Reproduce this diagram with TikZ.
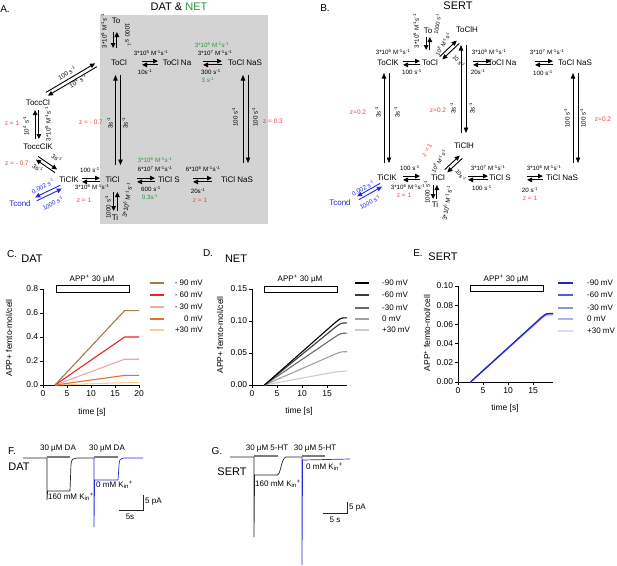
\documentclass[tikz,border=0pt]{standalone}
\usepackage{fontspec}
\setmainfont{Liberation Sans}
\usetikzlibrary{arrows.meta,calc}
\definecolor{zred}{RGB}{235,70,70}
\definecolor{kgreen}{RGB}{40,150,60}
\definecolor{tblue}{RGB}{30,40,230}
\definecolor{boxgray}{RGB}{211,211,211}
\definecolor{cA}{RGB}{160,125,75}
\definecolor{cB}{RGB}{228,40,40}
\definecolor{cC}{RGB}{245,165,165}
\definecolor{cD}{RGB}{225,115,50}
\definecolor{cE}{RGB}{250,205,150}
\definecolor{dA}{RGB}{0,0,0}
\definecolor{dB}{RGB}{60,60,60}
\definecolor{dC}{RGB}{105,105,105}
\definecolor{dD}{RGB}{160,160,160}
\definecolor{dE}{RGB}{205,205,205}
\definecolor{eA}{RGB}{35,35,205}
\definecolor{eB}{RGB}{90,90,215}
\definecolor{eC}{RGB}{130,150,225}
\definecolor{eD}{RGB}{170,180,238}
\definecolor{eE}{RGB}{215,220,248}
\definecolor{bargray}{RGB}{125,125,125}
\definecolor{trblue}{RGB}{40,40,220}
\newcommand\ee[1]{\textsuperscript{#1}}
\newcommand\Kin{K\textsubscript{in}\textsuperscript{+}}
\newcommand\rxg[8]{%
  \coordinate (p1) at ($(#3)+(#4)$);
  \coordinate (p2) at ($(#5)+(#6)$);
  \draw[#1] ($(p1)!#2!#7:(p2)$) -- ($(p2)!#2!#8:(p1)$);
  \draw[#1] ($(p2)!#2!#7:(p1)$) -- ($(p1)!#2!#8:(p2)$);}
\newcommand\rx[4]{\rxg{rxa}{1.9pt}{#1}{#2}{#3}{#4}{90}{-90}}
\newcommand\rxc[4]{\rxg{rxa}{1.9pt}{#1}{#2}{#3}{#4}{-90}{90}}
\newcommand\lrx[4]{\rxg{lxa}{2.5pt}{#1}{#2}{#3}{#4}{90}{-90}}
\newcommand\brxc[4]{\rxg{bxa}{1.9pt}{#1}{#2}{#3}{#4}{-90}{90}}
\begin{document}
\begin{tikzpicture}[x=1pt,y=-1pt,font=\fontsize{8}{9.6}\selectfont,
  every node/.style={inner sep=0pt},
  rt/.style={font=\fontsize{6.2}{7}\selectfont},
  st/.style={font=\fontsize{5.6}{6}\selectfont},
  zt/.style={font=\fontsize{6.5}{7}\selectfont,text=zred},
  ax/.style={font=\fontsize{8.5}{10}\selectfont},
  lg/.style={font=\fontsize{8}{9.6}\selectfont},
  tr/.style={font=\fontsize{8}{9.6}\selectfont},
  ttl/.style={font=\fontsize{11}{13}\selectfont},
  pl/.style={font=\fontsize{10}{12}\selectfont},
  rxa/.style={line width=0.9pt,-{Triangle[length=5pt,width=4.6pt]}},
  lxa/.style={line width=0.6pt,-{Triangle[length=5.5pt,width=4.4pt]}},
  bxa/.style={rxa,draw=tblue},
  axis/.style={line width=0.7pt},
  crv/.style={line width=1.1pt},
  bar/.style={line width=2.8pt,bargray},
  trk/.style={line width=0.7pt,black!85},
  trb/.style={line width=0.7pt,trblue}]
\useasboundingbox (0,0) rectangle (617,565);
\fill[white] (0,0) rectangle (617,565);
\fill[boxgray] (100,15) rectangle (268,224);
% titles
\node[pl] (tA) at (5,9) {A.};
\node[ttl] (tAt) at (179,7) {DAT \& \textcolor{kgreen}{NET}};
\node[pl] (tB) at (325,8) {B.};
\node[ttl] (tBt) at (458,6) {SERT};
% ---------------- Panel A states
\node (ATo) at (116,21) {To};
\node (AToCl) at (119,63) {ToCl};
\node (AToClNa) at (177,63) {ToCl Na};
\node (AToClNaS) at (245,63) {ToCl NaS};
\node (AToccCl) at (38,103) {ToccCl};
\node (AToccClK) at (38,147) {ToccClK};
\node (ATiClK) at (69,180) {TiClK};
\node (ATiCl) at (112.5,180) {TiCl};
\node (ATiClS) at (169,180) {TiCl S};
\node (ATiClNaS) at (237,180) {TiCl NaS};
\node (ATi) at (115,218) {Ti};
\node[text=tblue] (ATcond) at (20,204) {Tcond};
% arrows A
\rxc{ATo}{-1,11}{AToCl}{-4,-15}
\rx{AToCl}{23,0}{AToClNa}{-19,0}
\rx{AToClNa}{26,0}{AToClNaS}{-23,0}
\lrx{AToCl}{-1,12}{ATiCl}{5.5,-15}
\lrx{AToClNaS}{0.5,12}{ATiClNaS}{8.5,-17}
\rx{AToccCl}{9,-9}{AToCl}{-23,2}
\rx{AToccCl}{-1,7}{AToccClK}{-1,-8}
\rx{AToccClK}{-1,11}{ATiClK}{-13,-9}
\rx{ATiClK}{13,0}{ATiCl}{-12.5,0}
\brxc{ATiClK}{-8,7}{ATcond}{16,-5}
\rxc{ATiCl}{3,12}{ATi}{0.5,-7}
\rx{ATiCl}{24.5,0}{ATiClS}{-14,0}
\rx{ATiClS}{24,0}{ATiClNaS}{-25,0}
% labels A
\node[rt,rotate=90] (la1) at (104,31) {3*10\ee{5} M\ee{-1}s\ee{-1}};
\node[rt,rotate=-90] (la2) at (128,35) {1000 s\ee{-1}};
\node[rt] (la3) at (151,53) {3*10\ee{5} M\ee{-1}s\ee{-1}};
\node[rt] (la4) at (145,72) {10s\ee{-1}};
\node[rt,text=kgreen] (la5) at (212,45) {3*10\ee{5} M\ee{-1}s\ee{-1}};
\node[rt] (la6) at (215,53) {3*10\ee{7} M\ee{-1}s\ee{-1}};
\node[rt] (la7) at (211,72) {300 s\ee{-1}};
\node[rt,text=kgreen] (la8) at (208,80) {3 s\ee{-1}};
\node[rt,rotate=90] (la9) at (110,123) {3s\ee{-1}};
\node[rt,rotate=90] (la10) at (125,123) {3s\ee{-1}};
\node[zt] (la11) at (91,122) {z = - 0.7};
\node[rt,rotate=90] (la12) at (235,117) {100 s\ee{-1}};
\node[rt,rotate=90] (la13) at (255,117) {100 s\ee{-1}};
\node[zt] (la14) at (273,121) {z = 0.3};
\node[rt,rotate=30] (la15) at (67,73) {100 s\ee{-1}};
\node[rt,rotate=30] (la16) at (78,81) {10\ee{4} s\ee{-1}};
\node[rt,rotate=90] (la17) at (26,126) {10\ee{4} s\ee{-1}};
\node[rt,rotate=90] (la18) at (48,124) {3*10\ee{5} M\ee{-1}s\ee{-1}};
\node[zt] (la19) at (12,123) {z = 1};
\node[rt,rotate=-34] (la20) at (57,158) {3s\ee{-1}};
\node[rt,rotate=-34] (la21) at (38,168) {3s\ee{-1}};
\node[zt] (la22) at (17,163) {z = - 0.7};
\node[rt] (la23) at (90,170) {100 s\ee{-1}};
\node[rt] (la24) at (92,187) {3*10\ee{6} M\ee{-1}s\ee{-1}};
\node[zt] (la25) at (84,200) {z = 1};
\node[rt,rotate=27,text=tblue] (la26) at (43,186) {0.002 s\ee{-1}};
\node[rt,rotate=27,text=tblue] (la27) at (53,203) {1000 s\ee{-1}};
\node[rt,rotate=90] (la28) at (108,207) {1000 s\ee{-1}};
\node[rt,rotate=80] (la29) at (127,200) {3*10\ee{6} M\ee{-1}s\ee{-1}};
\node[rt,text=kgreen] (la30) at (155,160) {3*10\ee{6} M\ee{-1}s\ee{-1}};
\node[rt] (la31) at (155,169) {6*10\ee{7} M\ee{-1}s\ee{-1}};
\node[rt] (la32) at (151,189) {600 s\ee{-1}};
\node[rt,text=kgreen] (la33) at (150,197) {0.3s\ee{-1}};
\node[rt] (la34) at (203,169) {6*10\ee{6} M\ee{-1}s\ee{-1}};
\node[rt] (la35) at (198,191) {20s\ee{-1}};
\node[zt] (la36) at (200,200) {z = 1};
% ---------------- Panel B states
\node (BTo) at (428,31) {To};
\node (BToClH) at (467,30) {ToClH};
\node (BToClK) at (388,63) {ToClK};
\node (BToCl) at (430,63) {ToCl};
\node (BToClNa) at (502,63) {ToCl Na};
\node (BToClNaS) at (575,63) {ToCl NaS};
\node (BTiClH) at (464,146) {TiClH};
\node (BTiClK) at (387,178) {TiClK};
\node (BTiCl) at (438,178) {TiCl};
\node (BTiClS) at (500,178) {TiCl S};
\node (BTiClNaS) at (562,178) {TiCl NaS};
\node (BTi) at (435,205) {Ti};
\node[text=tblue] (BTcond) at (340,203) {Tcond};
% arrows B
\rx{BToClK}{15,0}{BToCl}{-10,0}
\rxc{BTo}{0,6}{BToCl}{-2,-13}
\rx{BToCl}{11,-5}{BToClH}{-9,12}
\lrx{BToClH}{-3.5,15}{BTiClH}{-0.5,-13}
\rx{BToCl}{43,0}{BToClNa}{-11,0}
\rx{BToClNa}{33,0}{BToClNaS}{-22,0}
\lrx{BToClK}{-1.5,10}{BTiClK}{-0.5,-15}
\lrx{BToClNaS}{0.5,10}{BTiClNaS}{13.5,-15}
\rx{BTiClK}{16,0}{BTiCl}{-18,0}
\rx{BTiCl}{8,-7}{BTiClH}{-3,11}
\rxc{BTiCl}{-3,7}{BTi}{0,-6}
\rx{BTiCl}{30,0}{BTiClS}{-12,0}
\rx{BTiClS}{27,0}{BTiClNaS}{-19,0}
\brxc{BTiClK}{-6,7}{BTcond}{18,-5}
% labels B
\node[rt] (lb1) at (393,52) {3*10\ee{6} M\ee{-1}s\ee{-1}};
\node[rt] (lb2) at (412,72) {100 s\ee{-1}};
\node[rt,rotate=90] (lb3) at (416,31) {3*10\ee{6} M\ee{-1}s\ee{-1}};
\node[st,rotate=80] (lb4) at (437,24) {1000 s\ee{-1}};
\node[st,rotate=60] (lb5) at (443,44) {10\ee{8} M\ee{-1}s\ee{-1}};
\node[st,rotate=-50] (lb6) at (459,61) {10 s\ee{-1}};
\node[rt,rotate=90] (lb7) at (453,108) {3s\ee{-1}};
\node[rt,rotate=90] (lb8) at (472,108) {3s\ee{-1}};
\node[zt] (lb9) at (438,110) {z=0.2};
\node[rt] (lb10) at (489,52) {3*10\ee{6} M\ee{-1}s\ee{-1}};
\node[rt] (lb11) at (478,72) {20s\ee{-1}};
\node[rt] (lb12) at (547,52) {3*10\ee{7} M\ee{-1}s\ee{-1}};
\node[rt] (lb13) at (543,73) {100 s\ee{-1}};
\node[rt,rotate=90] (lb14) at (378,112) {3s\ee{-1}};
\node[rt,rotate=90] (lb15) at (397,112) {3s\ee{-1}};
\node[zt] (lb16) at (358,112) {z=0.2};
\node[rt,rotate=90] (lb17) at (567,118) {100 s\ee{-1}};
\node[rt,rotate=90] (lb18) at (583,118) {100 s\ee{-1}};
\node[zt] (lb19) at (603,119) {z=0.2};
\node[rt] (lb20) at (410,168) {100 s\ee{-1}};
\node[rt] (lb21) at (408,187) {3*10\ee{6} M\ee{-1}s\ee{-1}};
\node[zt] (lb22) at (404,195) {z = 1};
\node[zt,rotate=60] (lb23) at (427,150) {z = 1};
\node[st,rotate=60] (lb24) at (439,161) {10\ee{8} M\ee{-1}s\ee{-1}};
\node[st,rotate=-55] (lb25) at (461,175) {10s\ee{-1}};
\node[rt,rotate=90] (lb26) at (427,192) {1000 s\ee{-1}};
\node[rt,rotate=80] (lb27) at (447,203) {3*10\ee{6} M\ee{-1}s\ee{-1}};
\node[rt] (lb28) at (488,168) {3*10\ee{7} M\ee{-1}s\ee{-1}};
\node[rt] (lb29) at (482,188) {100 s\ee{-1}};
\node[rt] (lb30) at (544,168) {3*10\ee{6} M\ee{-1}s\ee{-1}};
\node[rt] (lb31) at (530,190) {20 s\ee{-1}};
\node[zt] (lb32) at (530,198) {z = 1};
\node[rt,rotate=28,text=tblue] (lb33) at (363,188) {0.002 s\ee{-1}};
\node[rt,rotate=28,text=tblue] (lb34) at (370,202) {1000 s\ee{-1}};
% ---------------- Panel C
\node[pl] (tC) at (12,254) {C.};
\node[ttl] (tCt) at (32,259) {DAT};
\begin{scope}[shift={(43,385)},x=4.8pt,y=120pt]
 \draw[axis] (0,0.8) -- (0,0) -- (20,0);
 \foreach \v/\l [count=\i] in {0/0.0,0.2/0.2,0.4/0.4,0.6/0.6,0.8/0.8}
   \draw[axis] (0,\v) -- ++(-3pt,0) node[ax,anchor=east,xshift=-1.5pt,name=cy\i]{\l};
 \foreach \t [count=\i] in {0,5,10,15,20}
   \draw[axis] (\t,0) -- ++(0,-3pt) node[ax,anchor=north,yshift=-2pt,name=cx\i]{\t};
 \draw[crv,cE] (2.5,0) -- (17,0.02) -- (20,0.02);
 \draw[crv,cD] (2.5,0) -- (17,0.08) -- (20,0.08);
 \draw[crv,cC] (2.5,0) -- (17,0.215) -- (20,0.215);
 \draw[crv,cB] (2.5,0) -- (17,0.40) -- (20,0.40);
 \draw[crv,cA] (2.5,0) -- (17,0.62) -- (20,0.62);
\end{scope}
\node[ax,rotate=90] (cyl) at (9,338) {APP+ femto-mol/cell};
\node[ax] (cxl) at (92,412) {time [s]};
\draw[line width=0.7pt] (56,285) rectangle (129,292);
\node[tr] (cbx) at (92,279) {APP\ee{+} 30 µM};
\foreach \c/\l/\y [count=\i] in {cA/- 90 mV/283,cB/- 60 mV/295,cC/- 30 mV/307,cD/0 mV/319,cE/+30 mV/330}{
  \draw[crv,\c] (150,\y) -- (164,\y);
  \node[lg,anchor=east,name=lc\i] at (203,\y) {\l};}
% ---------------- Panel D
\node[pl] (tD) at (208,253) {D.};
\node[ttl] (tDt) at (236,259) {NET};
\begin{scope}[shift={(252,385)},x=5pt,y=640pt]
 \draw[axis] (0,0.15) -- (0,0) -- (19,0);
 \foreach \v/\l [count=\i] in {0/0.00,0.05/0.05,0.1/0.10,0.15/0.15}
   \draw[axis] (0,\v) -- ++(-3pt,0) node[ax,anchor=east,xshift=-1.5pt,name=dy\i]{\l};
 \foreach \t [count=\i] in {0,5,10,15}
   \draw[axis] (\t,0) -- ++(0,-3pt) node[ax,anchor=north,yshift=-2pt,name=dx\i]{\t};
 \draw[crv,dE] (2.5,0) -- (16.5,0.0202) .. controls (17.8,0.022) .. (19,0.022);
 \draw[crv,dD] (2.5,0) -- (16.5,0.0478) .. controls (17.8,0.052) .. (19,0.052);
 \draw[crv,dC] (2.5,0) -- (16.5,0.0745) .. controls (17.8,0.081) .. (19,0.081);
 \draw[crv,dB] (2.5,0) -- (16.5,0.0892) .. controls (17.8,0.097) .. (19,0.097);
 \draw[crv,dA] (2.5,0) -- (16.5,0.0966) .. controls (17.8,0.105) .. (19,0.105);
\end{scope}
\node[ax,rotate=90] (dyl) at (220,335) {APP+ femto-mol/cell};
\node[ax] (dxl) at (299,411) {time [s]};
\draw[line width=0.7pt] (264,286) rectangle (337,292);
\node[tr] (dbx) at (300,279) {APP\ee{+} 30 µM};
\foreach \c/\l/\y [count=\i] in {dA/-90 mV/283,dB/-60 mV/295,dC/-30 mV/308,dD/0 mV/319,dE/+30 mV/330}{
  \draw[crv,\c] (355,\y) -- (369,\y);
  \node[lg,anchor=west,name=ld\i] at (382,\y) {\l};}
% ---------------- Panel E
\node[pl] (tE) at (418,253) {E.};
\node[ttl] (tEt) at (443,257) {SERT};
\begin{scope}[shift={(458,382)},x=5pt,y=960pt]
 \draw[axis] (0,0.1) -- (0,0) -- (19,0);
 \foreach \v/\l [count=\i] in {0/0.00,0.02/0.02,0.04/0.04,0.06/0.06,0.08/0.08,0.1/0.10}
   \draw[axis] (0,\v) -- ++(-3pt,0) node[ax,anchor=east,xshift=-1.5pt,name=ey\i]{\l};
 \foreach \t [count=\i] in {0,5,10,15}
   \draw[axis] (\t,0) -- ++(0,-3pt) node[ax,anchor=north,yshift=-2pt,name=ex\i]{\t};
 \draw[crv,eE] (2.5,0) -- (16.5,0.0649) .. controls (17.6,0.0698) .. (19,0.0698);
 \draw[crv,eD] (2.5,0) -- (16.5,0.0654) .. controls (17.6,0.0703) .. (19,0.0703);
 \draw[crv,eC] (2.5,0) -- (16.5,0.0658) .. controls (17.6,0.0708) .. (19,0.0708);
 \draw[crv,eB] (2.5,0) -- (16.5,0.0662) .. controls (17.6,0.0712) .. (19,0.0712);
 \draw[crv,eA] (2.5,0) -- (16.5,0.0665) .. controls (17.6,0.0715) .. (19,0.0715);
\end{scope}
\node[ax,rotate=90] (eyl) at (427,333) {APP\ee{+} femto-mol/cell};
\node[ax] (exl) at (505,408) {time [s]};
\draw[line width=0.7pt] (470,285) rectangle (543,291);
\node[tr] (ebx) at (506,279) {APP\ee{+} 30 µM};
\foreach \c/\l/\y [count=\i] in {eA/-90 mV/283,eB/-60 mV/295,eC/-30 mV/308,eD/0 mV/319,eE/+30 mV/331}{
  \draw[crv,\c] (558,\y) -- (573,\y);
  \node[lg,anchor=west,name=le\i] at (587,\y) {\l};}
% ---------------- Panel F
\node[pl] (tF) at (12,451) {F.};
\node[ttl] (tFt) at (19,467) {DAT};
\draw[bar] (47,457) -- (70,457);
\draw[bar] (94,457) -- (118,457);
\node[tr] (f1) at (58,449) {30 µM DA};
\node[tr] (f2) at (107,449) {30 µM DA};
\draw[trk] (23,458) -- (47,458) -- (47,500) -- (47.6,491) -- (70,491) -- (71,464) .. controls (72,459) .. (77,458) -- (94,458);
\draw[trb] (94,458) -- (94,527) -- (94.6,480) -- (118,480) -- (119.2,463) .. controls (120,459) .. (124,458) -- (143,458);
\node[tr,anchor=west] (f3) at (48,497) {160 mM \Kin};
\node[tr,anchor=west] (f4) at (96,485) {0 mM \Kin};
\draw[trk] (119,510) -- (143,510) -- (143,495);
\node[tr,anchor=west] (f5) at (145,502) {5 pA};
\node[tr] (f6) at (130,517) {5s};
% ---------------- Panel G
\node[pl] (tG) at (217,451) {G.};
\node[ttl] (tGt) at (232,472) {SERT};
\draw[bar] (254,456) -- (278,456);
\draw[bar] (302,456) -- (325,456);
\node[tr] (g1) at (267,449) {30 µM 5-HT};
\node[tr] (g2) at (315,449) {30 µM 5-HT};
\draw[trk] (230,457) -- (254,457) -- (254,537) -- (254.6,475) -- (277,475) .. controls (281,475) and (281,458) .. (286,457) -- (302,457);
\draw[trb] (302,457) -- (302,565) -- (302.6,460) -- (350,459);
\node[tr,anchor=west] (g3) at (255,484) {160 mM \Kin};
\node[tr,anchor=west] (g4) at (306,467) {0 mM \Kin};
\draw[trk] (323,513) -- (347,513) -- (347,502);
\node[tr,anchor=west] (g5) at (349,508) {5 pA};
\node[tr] (g6) at (335,520) {5 s};
\end{tikzpicture}
\end{document}
